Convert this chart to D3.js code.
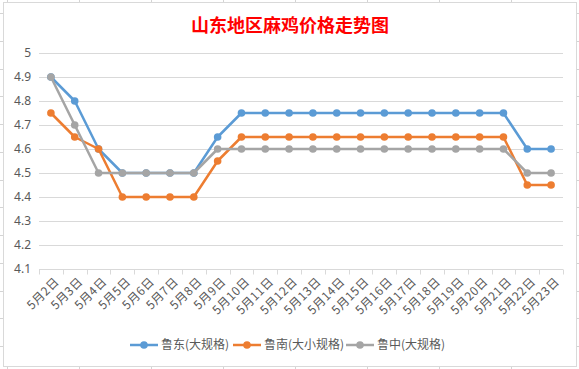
<!DOCTYPE html>
<html>
<head>
<meta charset="utf-8">
<script src="https://cdn.jsdelivr.net/npm/d3@7"></script>
<style>
  body { margin: 0; background: #fff; }
  text { font-family: "Noto Sans CJK SC", "Noto Sans", sans-serif; }
</style>
</head>
<body>
<div id="chart-container"></div>
<script>
// data
const dates = ["5月2日","5月3日","5月4日","5月5日","5月6日","5月7日","5月8日","5月9日","5月10日","5月11日","5月12日",
  "5月13日","5月14日","5月15日","5月16日","5月17日","5月18日","5月19日","5月20日","5月21日","5月22日","5月23日"];
const ludong = [4.9,4.8,4.6,4.5,4.5,4.5,4.5,4.65,4.75,4.75,4.75,4.75,4.75,4.75,4.75,4.75,4.75,4.75,4.75,4.75,4.6,4.6];
const lunan = [4.75,4.65,4.6,4.4,4.4,4.4,4.4,4.55,4.65,4.65,4.65,4.65,4.65,4.65,4.65,4.65,4.65,4.65,4.65,4.65,4.45,4.45];
const luzhong = [4.9,4.7,4.5,4.5,4.5,4.5,4.5,4.6,4.6,4.6,4.6,4.6,4.6,4.6,4.6,4.6,4.6,4.6,4.6,4.6,4.5,4.5];
const seriesNames = ["鲁东(大规格)","鲁南(大小规格)","鲁中(大规格)"];
const yTicks = [4.1,4.2,4.3,4.4,4.5,4.6,4.7,4.8,4.9,5];

const colors = ["#5B9BD5","#ED7D31","#A5A5A5"];
const series = [ludong, lunan, luzhong];

const W = 579, H = 369;
const plot = { left: 39, right: 563, top: 53, bottom: 269 };

const svg = d3.select("#chart-container").append("svg")
  .attr("width", W).attr("height", H);

// spreadsheet cells peeking out behind the chart
const cellCols = d3.range(7, W, 72);
const cellRows = d3.range(0, 13).map(i => Math.round(13 + i * 27.75));
svg.selectAll(".cellCol").data(cellCols).join("line")
  .attr("x1", d => d + 0.5).attr("x2", d => d + 0.5)
  .attr("y1", 0).attr("y2", H)
  .attr("stroke", "#d4d4d4");
svg.selectAll(".cellRow").data(cellRows).join("line")
  .attr("x1", 0).attr("x2", W)
  .attr("y1", d => d + 0.5).attr("y2", d => d + 0.5)
  .attr("stroke", "#d4d4d4");

// chart box
svg.append("rect")
  .attr("x", 3.5).attr("y", 2.5)
  .attr("width", 573).attr("height", 364)
  .attr("fill", "#fff")
  .attr("stroke", "#d9d9d9");

// title
svg.append("text")
  .attr("x", 290).attr("y", 32)
  .attr("text-anchor", "middle")
  .style("font-size", "18px")
  .style("font-weight", "bold")
  .style("fill", "#ff0000")
  .text("山东地区麻鸡价格走势图");

const xScale = d3.scaleBand().domain(dates).range([plot.left, plot.right]);
const yScale = d3.scaleLinear().domain([4.1, 5]).range([plot.bottom, plot.top]);

// horizontal gridlines
svg.append("g").selectAll("line")
  .data(yTicks.slice(1))
  .join("line")
  .attr("x1", plot.left).attr("x2", plot.right)
  .attr("y1", d => Math.round(yScale(d)) + 0.5)
  .attr("y2", d => Math.round(yScale(d)) + 0.5)
  .attr("stroke", "#d9d9d9");

// y axis labels
svg.append("g")
  .attr("transform", `translate(${plot.left - 8},0)`)
  .call(d3.axisLeft(yScale).tickValues(yTicks).tickFormat(d3.format("")).tickSize(0).tickPadding(0))
  .call(g => g.select(".domain").remove())
  .selectAll(".tick text")
  .style("font-family", "'Noto Sans', sans-serif")
  .style("font-size", "12px")
  .style("fill", "#595959");

// x axis
const xAxis = svg.append("g")
  .attr("transform", `translate(0,${Math.round(plot.bottom) + 0.5})`);
xAxis.append("line")
  .attr("x1", plot.left).attr("x2", plot.right)
  .attr("stroke", "#d9d9d9");
xAxis.selectAll(".tk")
  .data(dates.map(d => xScale(d)).concat([plot.right]))
  .join("line")
  .attr("x1", d => Math.round(d) + 0.5).attr("x2", d => Math.round(d) + 0.5)
  .attr("y1", 0).attr("y2", 5)
  .attr("stroke", "#d9d9d9");
xAxis.selectAll(".xl")
  .data(dates)
  .join("text")
  .attr("transform", d => `translate(${xScale(d) + xScale.bandwidth() / 2 + 6},${10}) rotate(-45)`)
  .attr("text-anchor", "end")
  .attr("dy", "0.35em")
  .style("font-size", "12px")
  .style("letter-spacing", "0.5px")
  .style("fill", "#595959")
  .text(d => d);

// lines and markers
const line = d3.line()
  .x((d, i) => xScale(dates[i]) + xScale.bandwidth() / 2)
  .y(d => yScale(d));

series.forEach((vals, s) => {
  const g = svg.append("g");
  g.append("path")
    .datum(vals)
    .attr("d", line)
    .attr("fill", "none")
    .attr("stroke", colors[s])
    .attr("stroke-width", 2.5)
    .attr("stroke-linejoin", "round");
  g.selectAll("circle")
    .data(vals)
    .join("circle")
    .attr("cx", (d, i) => xScale(dates[i]) + xScale.bandwidth() / 2)
    .attr("cy", d => yScale(d))
    .attr("r", 3.8)
    .attr("fill", colors[s]);
});

// legend
const legendX = [130, 233, 346];
const legend = svg.append("g").attr("transform", "translate(0,345)");
seriesNames.forEach((name, s) => {
  const lg = legend.append("g").attr("transform", `translate(${legendX[s]},0)`);
  lg.append("line").attr("x1", 0).attr("x2", 28)
    .attr("stroke", colors[s]).attr("stroke-width", 2.5);
  lg.append("circle").attr("cx", 14).attr("r", 3.8).attr("fill", colors[s]);
  lg.append("text").attr("x", 31).attr("dy", "0.35em")
    .style("font-size", "12px")
    .style("fill", "#595959")
    .text(name);
});
</script>
</body>
</html>
